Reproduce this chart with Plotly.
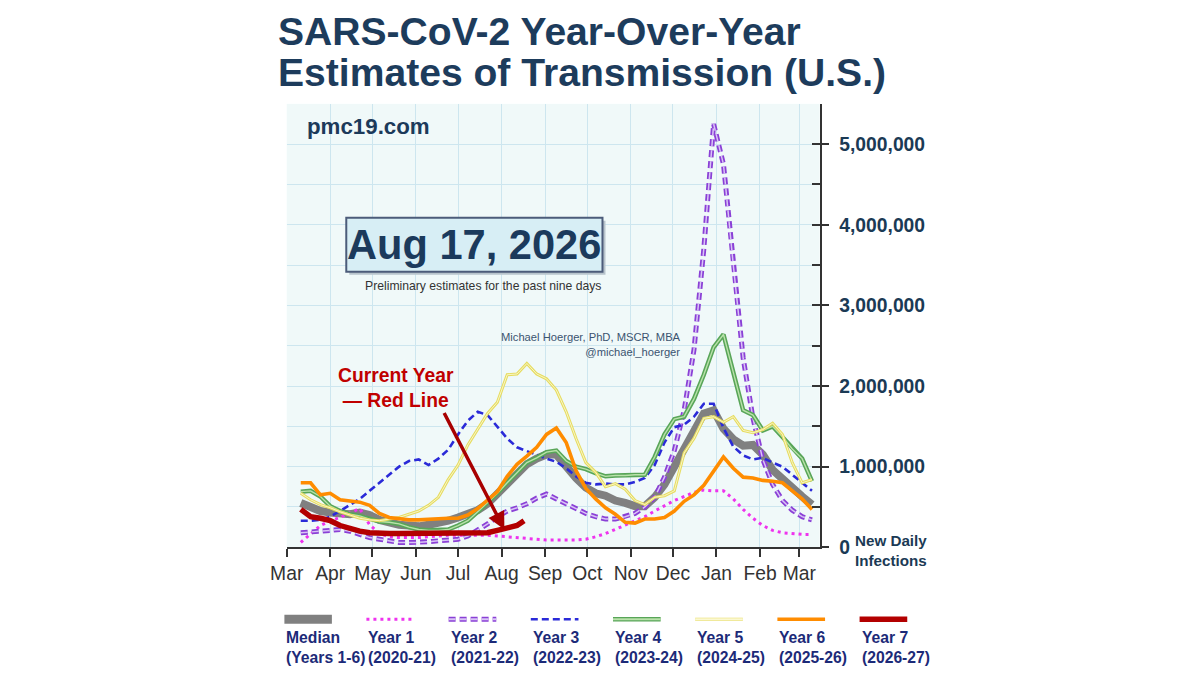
import plotly.graph_objects as go

# ---------------- data (millions of new daily infections) ----------------
days = [10, 17, 24, 31, 38, 45, 52, 59, 66, 73, 80, 87, 94, 101, 108, 115, 122, 129,
        136, 143, 150, 157, 164, 171, 178, 185, 192, 199, 206, 213, 220, 227, 234, 241,
        248, 255, 262, 269, 276, 283, 290, 297, 304, 311, 318, 325, 332, 339, 346, 353,
        360, 367, 374]

median = [0.55, 0.50, 0.45, 0.43, 0.42, 0.41, 0.43, 0.40, 0.34, 0.30, 0.28, 0.27, 0.26,
          0.28, 0.30, 0.33, 0.37, 0.41, 0.46, 0.54, 0.67, 0.79, 0.91, 1.03, 1.10, 1.15,
          1.15, 1.00, 0.86, 0.74, 0.67, 0.64, 0.58, 0.55, 0.51, 0.51, 0.62, 0.78, 1.00,
          1.22, 1.44, 1.66, 1.70, 1.47, 1.34, 1.26, 1.27, 1.15, 0.96, 0.84, 0.73, 0.63, 0.53]

year1 = [0.06, 0.17, 0.27, 0.33, 0.37, 0.43, 0.48, 0.28, 0.17, 0.13, 0.12, 0.12, 0.12,
         0.13, 0.14, 0.15, 0.15, 0.15, 0.15, 0.15, 0.14, 0.13, 0.12, 0.11, 0.10, 0.09,
         0.09, 0.09, 0.09, 0.10, 0.13, 0.17, 0.22, 0.27, 0.32, 0.38, 0.45, 0.52, 0.58,
         0.63, 0.68, 0.71, 0.70, 0.70, 0.60, 0.47, 0.36, 0.27, 0.21, 0.18, 0.17, 0.16, 0.16]

year2 = [0.18, 0.19, 0.20, 0.21, 0.22, 0.20, 0.16, 0.12, 0.10, 0.08, 0.06, 0.06, 0.06,
         0.07, 0.08, 0.09, 0.10, 0.14, 0.21, 0.29, 0.38, 0.45, 0.49, 0.54, 0.61, 0.66,
         0.60, 0.54, 0.48, 0.42, 0.38, 0.35, 0.35, 0.38, 0.42, 0.50, 0.62, 0.87, 1.20,
         1.70, 2.45, 3.70, 5.25, 4.75, 3.50, 2.35, 1.60, 1.09, 0.78, 0.58, 0.46, 0.38, 0.34]

year3 = [0.33, 0.33, 0.34, 0.38, 0.45, 0.52, 0.60, 0.70, 0.80, 0.91, 1.00, 1.07, 1.09,
         1.02, 1.10, 1.21, 1.40, 1.57, 1.68, 1.64, 1.50, 1.35, 1.24, 1.19, 1.14, 1.10,
         1.06, 0.98, 0.88, 0.80, 0.78, 0.79, 0.78, 0.78, 0.81, 0.86, 1.02, 1.30, 1.49,
         1.52, 1.62, 1.78, 1.78, 1.48, 1.25, 1.14, 1.09, 1.11, 1.05, 1.00, 0.90, 0.80, 0.70]

year4 = [0.69, 0.70, 0.63, 0.51, 0.45, 0.41, 0.39, 0.35, 0.32, 0.31, 0.29, 0.25, 0.22,
         0.21, 0.21, 0.22, 0.27, 0.33, 0.44, 0.55, 0.67, 0.80, 0.93, 1.05, 1.11, 1.18,
         1.20, 1.07, 1.00, 0.97, 0.92, 0.88, 0.89, 0.89, 0.90, 0.90, 1.12, 1.40, 1.59,
         1.62, 1.84, 2.14, 2.48, 2.64, 2.17, 1.70, 1.64, 1.45, 1.50, 1.37, 1.22, 1.10, 0.82]

year5 = [0.67, 0.59, 0.53, 0.49, 0.44, 0.40, 0.36, 0.34, 0.33, 0.35, 0.37, 0.41, 0.45,
         0.52, 0.62, 0.84, 1.02, 1.27, 1.47, 1.66, 1.80, 2.14, 2.15, 2.28, 2.15, 2.09,
         1.95, 1.68, 1.35, 1.05, 0.93, 0.75, 0.79, 0.72, 0.58, 0.53, 0.62, 0.64, 0.70,
         1.17, 1.35, 1.60, 1.62, 1.55, 1.62, 1.45, 1.42, 1.46, 1.54, 1.40, 1.05, 0.80, 0.84]

year6 = [0.80, 0.80, 0.65, 0.67, 0.59, 0.57, 0.56, 0.52, 0.42, 0.37, 0.35, 0.34, 0.34,
         0.35, 0.35, 0.36, 0.36, 0.40, 0.48, 0.58, 0.69, 0.88, 1.03, 1.13, 1.24, 1.40,
         1.48, 1.30, 0.95, 0.73, 0.60, 0.49, 0.41, 0.31, 0.30, 0.35, 0.35, 0.37, 0.45,
         0.57, 0.65, 0.77, 0.95, 1.12, 0.98, 0.87, 0.86, 0.83, 0.82, 0.80, 0.70, 0.60, 0.47]

year7_days = [10, 17, 24, 31, 38, 45, 52, 59, 66, 73, 80, 87, 94, 101, 108, 115, 122,
              129, 136, 143, 150, 157, 164, 169]
year7 = [0.47, 0.38, 0.36, 0.33, 0.27, 0.23, 0.20, 0.18, 0.17, 0.17, 0.17, 0.17, 0.17,
         0.17, 0.17, 0.17, 0.17, 0.17, 0.18, 0.18, 0.21, 0.24, 0.27, 0.33]

month_days = [0, 31, 61, 92, 122, 153, 184, 214, 245, 275, 306, 337, 365]
month_labels = ["Mar", "Apr", "May", "Jun", "Jul", "Aug", "Sep", "Oct", "Nov", "Dec",
                "Jan", "Feb", "Mar"]

y_major = [0, 1, 2, 3, 4, 5]
y_all = [0, 0.5, 1, 1.5, 2, 2.5, 3, 3.5, 4, 4.5, 5, 5.5]
y_labels = ["0", "", "1,000,000", "", "2,000,000", "", "3,000,000", "", "4,000,000", "",
            "5,000,000", ""]

legend_names = ["Median", "Year 1", "Year 2", "Year 3", "Year 4", "Year 5", "Year 6", "Year 7"]
legend_sub = ["(Years 1-6)", "(2020-21)", "(2021-22)", "(2022-23)", "(2023-24)",
              "(2024-25)", "(2025-26)", "(2026-27)"]

# ---------------- styles ----------------
FONT = "Liberation Sans, Arial, sans-serif"
NAVY = "#1d3c5c"
LEG = "#1c2a78"

styles = [
    [("#808080", 8, "solid")],
    [("#ee33ee", 3, "3px,4px")],
    [("#8a40d6", 5, "7px,4px"), ("#d9c4f6", 1.5, "7px,4px")],
    [("#2a2ad8", 2.6, "7px,4px")],
    [("#58a558", 4.5, "solid"), ("#b9e2aa", 1.4, "solid")],
    [("#e6dc60", 3.0, "solid"), ("#fbf8d2", 0.9, "solid")],
    [("#ff8c00", 3.6, "solid")],
    [("#b30000", 5.5, "solid")],
]
series = [median, year1, year2, year3, year4, year5, year6, year7]
xs = [days] * 7 + [year7_days]

fig = go.Figure()

for ser, xv, st in zip(series, xs, styles):
    for color, width, dash in st:
        fig.add_trace(go.Scatter(x=xv, y=ser, mode="lines",
                                 line=dict(color=color, width=width, dash=dash),
                                 hoverinfo="skip", showlegend=False))

fig.add_trace(go.Scatter(x=[None], y=[None], yaxis="y2", showlegend=False, hoverinfo="skip"))

slot = list(range(len(legend_names)))
for i, st in enumerate(styles):
    for color, width, dash in st:
        fig.add_trace(go.Scatter(x=[slot[i], slot[i] + 0.58], y=[0.5, 0.5], mode="lines",
                                 line=dict(color=color, width=(9 if i == 0 else max(width, 2)),
                                           dash=dash),
                                 xaxis="x3", yaxis="y3", hoverinfo="skip", showlegend=False))

W, H = 1200, 675
# correction between the figure pixel grid and the photographed page
SX, OX, SY, OY = 0.985, 24.0, 0.985, 8.0
def px(x):
    return ((x - OX) / SX) / W
def py(y):
    return 1 - ((y - OY) / SY) / H
def fs(s):
    return round(s / SX, 1)

fig.update_layout(
    width=W, height=H,
    margin=dict(l=0, r=0, t=0, b=0),
    paper_bgcolor="white",
    plot_bgcolor="#f0f9f9",
    showlegend=False,
    font=dict(family=FONT),
    xaxis=dict(domain=[px(285.5), px(818)], range=[0, 379.5],
               tickmode="array", tickvals=month_days, ticktext=month_labels,
               ticks="outside", ticklen=8, tickcolor="#333", tickwidth=1.5,
               tickfont=dict(size=fs(19), color="#333333", family=FONT),
               showline=True, linecolor="#333", linewidth=1.5,
               showgrid=True, gridcolor="#cde6ef", gridwidth=1,
               zeroline=False, fixedrange=True),
    yaxis=dict(domain=[py(548), py(104)], range=[0, 5.5], side="right",
               tickmode="array", tickvals=y_all, ticktext=y_labels,
               ticks="inside", ticklen=8, tickcolor="#333", tickwidth=1.5,
               ticklabelstandoff=14,
               tickfont=dict(size=fs(19), color="#1b3a55", family=FONT, weight="bold"),
               showline=True, linecolor="#333", linewidth=1.5,
               showgrid=True, gridcolor="#cde6ef", gridwidth=1,
               zeroline=False, fixedrange=True),
    yaxis2=dict(overlaying="y", side="right", range=[0, 5.5],
                tickmode="array", tickvals=y_major, ticks="outside", ticklen=8,
                tickcolor="#333", tickwidth=1.5, showticklabels=False,
                showgrid=False, showline=False, zeroline=False, fixedrange=True),
    xaxis3=dict(domain=[px(283), px(940)], range=[0, 8], anchor="y3", visible=False,
                fixedrange=True),
    yaxis3=dict(domain=[py(640), py(600)], range=[0, 1], anchor="x3", visible=False,
                fixedrange=True),
)

ann = []
ann.append(dict(text="<b>SARS-CoV-2 Year-Over-Year</b>", xref="paper", yref="paper",
                x=px(275), y=1.0, xanchor="left", yanchor="top", showarrow=False,
                font=dict(size=fs(38.5), color=NAVY, family=FONT)))
ann.append(dict(text="<b>Estimates of Transmission (U.S.)</b>", xref="paper", yref="paper",
                x=px(275), y=py(73), xanchor="left", yanchor="middle", showarrow=False,
                font=dict(size=fs(38.5), color=NAVY, family=FONT)))
ann.append(dict(text="<b>pmc19.com</b>", xref="paper", yref="paper", x=px(304), y=py(127),
                xanchor="left", yanchor="middle", showarrow=False,
                font=dict(size=fs(22), color="#1c3a5a", family=FONT)))
ann.append(dict(text="<b>Aug 17, 2026</b>", xref="paper", yref="paper", x=px(473), y=py(245),
                xanchor="center", yanchor="middle", showarrow=False,
                font=dict(size=fs(41), color="#1b3a5c", family=FONT)))
ann.append(dict(text="Preliminary estimates for the past nine days", xref="paper", yref="paper",
                x=px(482), y=py(286), xanchor="center", yanchor="middle", showarrow=False,
                font=dict(size=fs(12), color="#333333", family=FONT)))
ann.append(dict(text="Michael Hoerger, PhD, MSCR, MBA<br>@michael_hoerger", xref="paper",
                yref="paper", x=px(681), y=py(345), xanchor="right", yanchor="middle",
                align="right", showarrow=False,
                font=dict(size=fs(11), color="#3b5470", family=FONT)))
ann.append(dict(text="<b>Current Year<br>— Red Line</b>", xref="paper", yref="paper",
                x=px(395), y=py(389), xanchor="center", yanchor="middle", showarrow=False,
                font=dict(size=fs(19), color="#c00000", family=FONT)))
ann.append(dict(text="", x=155, y=0.22, xref="x", yref="y", showarrow=True,
                ax=-61, ay=-118, arrowhead=2, arrowsize=1, arrowwidth=3.5,
                arrowcolor="#a80000"))
ann.append(dict(text="<b>New Daily<br>Infections</b>", xref="paper", yref="paper",
                x=px(889), y=py(551), xanchor="center", yanchor="middle", showarrow=False,
                font=dict(size=fs(15), color="#1b3a55", family=FONT)))
for i in slot:
    ann.append(dict(text="<b>%s<br>%s</b>" % (legend_names[i], legend_sub[i]),
                    xref="x3", yref="paper", x=slot[i], y=py(628), xanchor="left",
                    yanchor="top", align="left", showarrow=False,
                    font=dict(size=fs(15.5), color=LEG, family=FONT)))
fig.update_layout(annotations=ann)

fig.add_shape(type="rect", xref="x3 domain", yref="y3 domain", x0=-0.01, x1=1.01, y0=-0.05,
              y1=1.05, fillcolor="white", line=dict(width=0), layer="below")
fig.add_shape(type="rect", xref="paper", yref="paper", x0=px(348), x1=px(604),
              y0=py(275), y1=py(221), fillcolor="#b8c4cc", line=dict(width=0), layer="above")
fig.add_shape(type="rect", xref="paper", yref="paper", x0=px(345), x1=px(601),
              y0=py(272), y1=py(218), fillcolor="#d7eef5",
              line=dict(color="#4c5c7a", width=2), layer="above")

fig.write_html("out.html")
